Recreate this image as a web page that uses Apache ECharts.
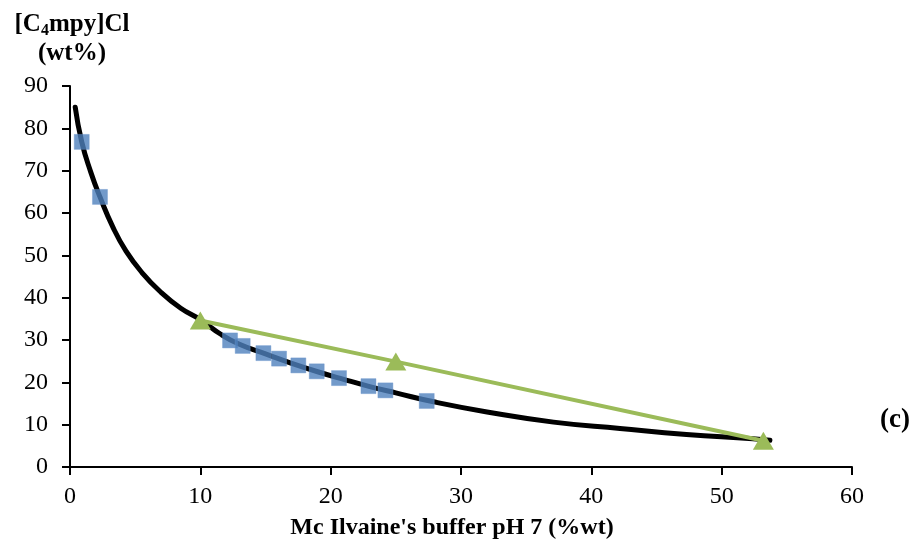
<!DOCTYPE html>
<html>
<head>
<meta charset="utf-8">
<script src="https://cdn.jsdelivr.net/npm/echarts@6/dist/echarts.min.js"></script>
<style>html,body{margin:0;padding:0;background:#fff}#c{width:917px;height:542px}</style>
</head>
<body>
<div id="c"></div>
<script>
// Binodal curve (fitted line)
var curveX = [0.4, 0.9, 1.6, 2.3, 3.3, 4.3, 5.5, 7.0, 8.5, 10.0, 11.6, 13.0, 15.0, 17.0, 19.0, 21.0, 23.0, 25.0, 27.9, 32.0, 37.1, 42.2, 47.3, 52.4, 53.7];
var curveY = [85.0, 76.8, 69.6, 63.8, 56.6, 51.0, 46.0, 41.2, 37.5, 34.8, 31.3, 29.0, 26.7, 24.5, 22.5, 20.7, 19.0, 17.5, 15.4, 13.0, 10.6, 9.1, 7.7, 6.7, 6.3];
// Experimental binodal points (blue squares)
var expX = [0.9, 2.3, 12.28, 13.25, 14.84, 16.04, 17.52, 18.93, 20.64, 22.9, 24.2, 27.37];
var expY = [76.8, 63.8, 29.9, 28.6, 26.9, 25.6, 24.0, 22.6, 21.0, 19.1, 18.1, 15.6];
// Tie-line (green triangles)
var tieX = [10.0, 25.0, 53.2];
var tieY = [34.6, 24.9, 6.2];
var xTicks = [0, 10, 20, 30, 40, 50, 60];
var yTicks = [0, 10, 20, 30, 40, 50, 60, 70, 80, 90];

function zip(a, b) { return a.map(function (v, i) { return [v, b[i]]; }); }

var font = '"Liberation Serif", "Times New Roman", serif';
var chart = echarts.init(document.getElementById('c'), null, { renderer: 'canvas' });
chart.setOption({
  animation: false,
  backgroundColor: '#ffffff',
  grid: { left: 70, right: 65, top: 86, bottom: 75, containLabel: false },
  xAxis: {
    type: 'value', min: xTicks[0], max: xTicks[xTicks.length - 1], interval: 10,
    axisLine: { show: true, onZero: false, lineStyle: { color: '#000', width: 2 } },
    axisTick: { show: true, inside: false, length: 8, lineStyle: { color: '#000', width: 2 } },
    axisLabel: { margin: 18, fontFamily: font, fontSize: 24, color: '#000' },
    splitLine: { show: false }
  },
  yAxis: {
    type: 'value', min: yTicks[0], max: yTicks[yTicks.length - 1], interval: 10,
    axisLine: { show: true, onZero: false, lineStyle: { color: '#000', width: 2 } },
    axisTick: { show: true, inside: false, length: 8, lineStyle: { color: '#000', width: 2 } },
    axisLabel: { margin: 22, fontFamily: font, fontSize: 24, color: '#000' },
    splitLine: { show: false }
  },
  graphic: [
    {
      type: 'text', x: 72, y: 25,
      style: {
        text: '{b|[C}{s|4}{b|mpy]Cl}', align: 'center', verticalAlign: 'middle',
        rich: {
          b: { fontFamily: font, fontSize: 25, fontWeight: 'bold', fill: '#000' },
          s: { fontFamily: font, fontSize: 16, fontWeight: 'bold', fill: '#000', padding: [12, 0, 0, 0] }
        }
      }
    },
    {
      type: 'text', x: 72, y: 54,
      style: { text: '(wt%)', align: 'center', verticalAlign: 'middle', fontFamily: font, fontSize: 25, fontWeight: 'bold', fill: '#000' }
    },
    {
      type: 'text', x: 895, y: 420,
      style: { text: '(c)', align: 'center', verticalAlign: 'middle', fontFamily: font, fontSize: 27, fontWeight: 'bold', fill: '#000' }
    },
    {
      type: 'text', x: 452, y: 528,
      style: { text: "Mc Ilvaine's buffer pH 7 (%wt)", align: 'center', verticalAlign: 'middle', fontFamily: font, fontSize: 24, fontWeight: 'bold', fill: '#000' }
    }
  ],
  series: [
    {
      type: 'line', data: zip(curveX, curveY), smooth: 0.5, showSymbol: false, symbol: 'none',
      lineStyle: { color: '#000', width: 5, cap: 'round', join: 'round' }, z: 2
    },
    {
      type: 'scatter', data: zip(expX, expY), symbol: 'rect', symbolSize: 15,
      itemStyle: { color: '#4F81BD', borderColor: '#6b97cc', borderWidth: 0.5 }, z: 3
    },
    {
      type: 'line', data: zip(tieX, tieY), symbol: 'triangle', symbolSize: [21, 18], showSymbol: true,
      lineStyle: { color: '#9BBB59', width: 4 }, itemStyle: { color: '#9BBB59' }, z: 4
    }
  ]
});
</script>
</body>
</html>
